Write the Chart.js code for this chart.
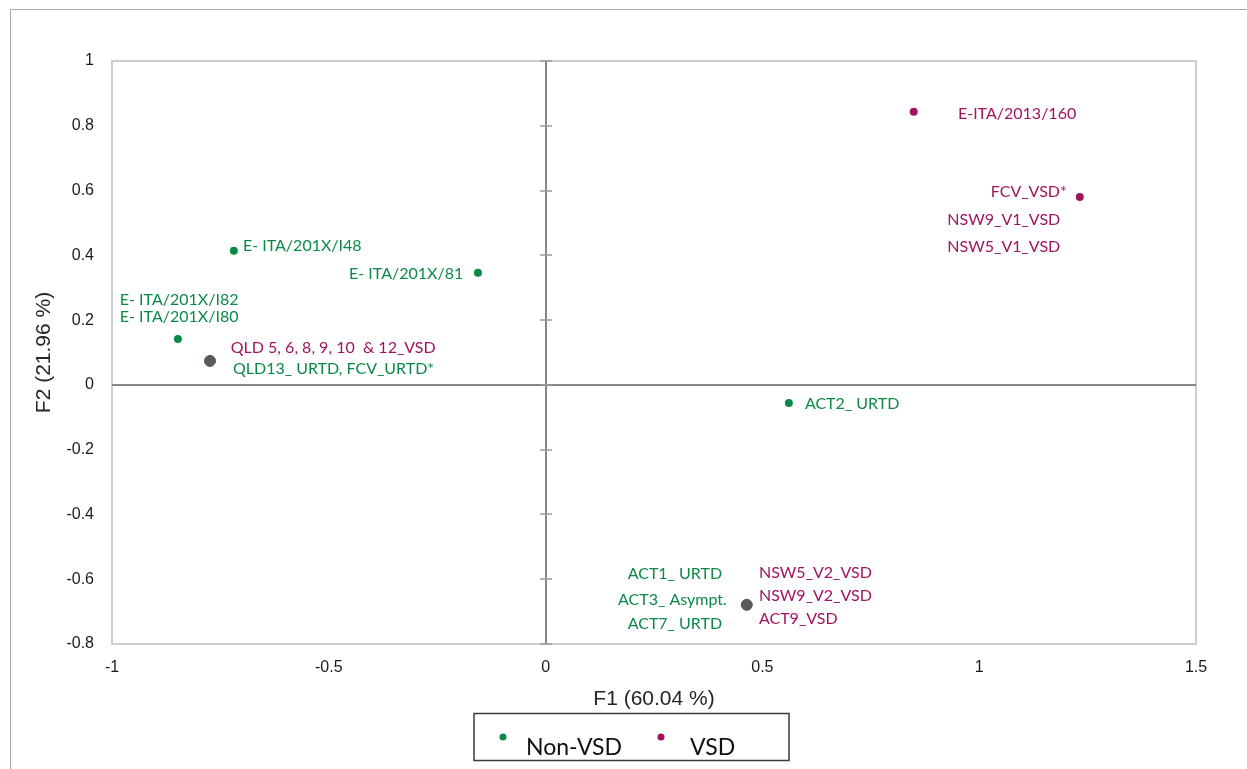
<!DOCTYPE html>
<html>
<head>
<meta charset="utf-8">
<script src="https://cdn.jsdelivr.net/npm/chart.js@4.4.1/dist/chart.umd.min.js"></script>
<style>
  html, body { margin: 0; padding: 0; background: #fff; }
</style>
</head>
<body>
<canvas id="chart" width="1247" height="769"></canvas>
<script>
// axis ticks
const xTicks = [-1, -0.5, 0, 0.5, 1, 1.5];
const yTicks = [-0.8, -0.6, -0.4, -0.2, 0, 0.2, 0.4, 0.6, 0.8, 1];

// PCA scores (F1, F2)
const nonVsdPoints = [
  { x: -0.719, y: 0.414 },
  { x: -0.156, y: 0.346 },
  { x: -0.848, y: 0.142 },
  { x: -0.774, y: 0.074 },
  { x: 0.561, y: -0.056 },
  { x: 0.464, y: -0.679 }
];
const vsdPoints = [
  { x: 0.849, y: 0.843 },
  { x: 1.232, y: 0.580 },
  { x: -0.774, y: 0.074 },
  { x: 0.464, y: -0.679 }
];
// places where both groups sit on the same spot
const sharedPoints = [
  { x: -0.774, y: 0.074 },
  { x: 0.464, y: -0.679 }
];

// text labels: anchor in data units, group, alignment
const pointLabels = [
  { text: 'E- ITA/201X/I48', x: -0.698, y: 0.429, group: 0, align: 'left' },
  { text: 'E- ITA/201X/81', x: -0.190, y: 0.343, group: 0, align: 'right' },
  { text: 'E- ITA/201X/I82', x: -0.982, y: 0.262, group: 0, align: 'left' },
  { text: 'E- ITA/201X/I80', x: -0.982, y: 0.210, group: 0, align: 'left' },
  { text: 'QLD 5, 6, 8, 9, 10  & 12_VSD', x: -0.726, y: 0.114, group: 1, align: 'left' },
  { text: 'QLD13_ URTD, FCV_URTD*', x: -0.721, y: 0.049, group: 0, align: 'left' },
  { text: 'ACT2_ URTD', x: 0.598, y: -0.059, group: 0, align: 'left' },
  { text: 'ACT1_ URTD', x: 0.407, y: -0.583, group: 0, align: 'right' },
  { text: 'ACT3_ Asympt.', x: 0.418, y: -0.664, group: 0, align: 'right' },
  { text: 'ACT7_ URTD', x: 0.407, y: -0.738, group: 0, align: 'right' },
  { text: 'NSW5_V2_VSD', x: 0.492, y: -0.580, group: 1, align: 'left' },
  { text: 'NSW9_V2_VSD', x: 0.492, y: -0.651, group: 1, align: 'left' },
  { text: 'ACT9_VSD', x: 0.492, y: -0.722, group: 1, align: 'left' },
  { text: 'E-ITA/2013/160', x: 0.951, y: 0.836, group: 1, align: 'left' },
  { text: 'FCV_VSD*', x: 1.202, y: 0.596, group: 1, align: 'right' },
  { text: 'NSW9_V1_VSD', x: 1.187, y: 0.509, group: 1, align: 'right' },
  { text: 'NSW5_V1_VSD', x: 1.187, y: 0.426, group: 1, align: 'right' }
];

const GREEN = '#0a8a46';
const MAGENTA = '#a0145e';
const groupColors = [GREEN, MAGENTA];

function fmt(v) {
  return String(Math.round(v * 10) / 10);
}

const decorPlugin = {
  id: 'decor',
  beforeDatasetsDraw(chart) {
    const { ctx, chartArea: a, scales: { x, y } } = chart;
    ctx.save();
    // outer frame
    ctx.strokeStyle = '#a6a6a6';
    ctx.lineWidth = 1;
    ctx.strokeRect(10.5, 9.5, chart.width + 20, chart.height + 20);
    // plot area border
    ctx.strokeStyle = '#cdcdcd';
    ctx.lineWidth = 2;
    ctx.strokeRect(a.left, a.top, a.right - a.left, a.bottom - a.top);
    // zero axes
    const x0 = Math.round(x.getPixelForValue(0));
    const y0 = Math.round(y.getPixelForValue(0));
    ctx.strokeStyle = '#878787';
    ctx.lineWidth = 2;
    ctx.beginPath();
    ctx.moveTo(x0, a.top); ctx.lineTo(x0, a.bottom);
    ctx.moveTo(a.left, y0); ctx.lineTo(a.right, y0);
    ctx.stroke();
    // small tick marks on the vertical zero axis
    ctx.strokeStyle = '#9a9a9a';
    ctx.lineWidth = 1.5;
    ctx.beginPath();
    yTicks.forEach(v => {
      const py = Math.round(y.getPixelForValue(v));
      ctx.moveTo(x0 - 6, py); ctx.lineTo(x0 + 6, py);
    });
    ctx.stroke();
    ctx.restore();
  },
  afterDatasetsDraw(chart) {
    const { ctx, scales: { x, y } } = chart;
    ctx.save();
    ctx.font = '16px Lato';
    ctx.textBaseline = 'middle';
    pointLabels.forEach(l => {
      ctx.fillStyle = groupColors[l.group];
      ctx.textAlign = l.align;
      ctx.fillText(l.text, x.getPixelForValue(l.x), y.getPixelForValue(l.y));
    });
    ctx.restore();
  },
  afterDraw(chart) {
    // legend box
    const { ctx } = chart;
    const sets = chart.data.datasets.filter(d => d.inLegend);
    ctx.save();
    ctx.strokeStyle = '#3a3a3a';
    ctx.lineWidth = 1.5;
    ctx.strokeRect(474, 713.5, 315, 47);
    ctx.font = '23px Lato';
    ctx.textBaseline = 'middle';
    ctx.textAlign = 'left';
    const slots = [{ dot: 503, text: 526 }, { dot: 661, text: 690 }];
    sets.forEach((d, i) => {
      ctx.fillStyle = d.backgroundColor;
      ctx.beginPath();
      ctx.arc(slots[i].dot, 737, 3.5, 0, Math.PI * 2);
      ctx.fill();
      ctx.fillStyle = '#111';
      ctx.fillText(d.label, slots[i].text, 748);
    });
    ctx.restore();
  }
};

new Chart(document.getElementById('chart'), {
  type: 'scatter',
  data: {
    datasets: [
      { label: 'Non-VSD', data: nonVsdPoints, backgroundColor: GREEN, borderColor: GREEN,
        pointRadius: 4, borderWidth: 0, order: 2, inLegend: true },
      { label: 'VSD', data: vsdPoints, backgroundColor: MAGENTA, borderColor: MAGENTA,
        pointRadius: 4, borderWidth: 0, order: 1, inLegend: true },
      { label: 'both', data: sharedPoints, backgroundColor: '#595959', borderColor: '#6a4a5c',
        pointRadius: 5.5, borderWidth: 1, order: 0, inLegend: false }
    ]
  },
  options: {
    responsive: false,
    animation: false,
    layout: { padding: { top: 61, right: 51, bottom: 0, left: 0 } },
    plugins: {
      legend: { display: false },
      tooltip: { enabled: false }
    },
    scales: {
      x: {
        type: 'linear',
        min: -1,
        max: 1.5,
        afterBuildTicks: s => { s.ticks = xTicks.map(v => ({ value: v })); },
        afterFit: s => { s.height = 125; },
        grid: { display: false, drawTicks: false },
        border: { display: false },
        ticks: { padding: 14, color: '#1a1a1a', font: { family: 'Liberation Sans', size: 16 }, callback: fmt },
        title: { display: true, text: 'F1 (60.04 %)', color: '#262626',
          font: { family: 'Liberation Sans', size: 21 }, padding: { top: 0, bottom: 57 } }
      },
      y: {
        type: 'linear',
        min: -0.8,
        max: 1,
        afterBuildTicks: s => { s.ticks = yTicks.map(v => ({ value: v })); },
        afterFit: s => { s.width = 112; },
        grid: { display: false, drawTicks: false },
        border: { display: false },
        ticks: { padding: 18, color: '#1a1a1a', font: { family: 'Liberation Sans', size: 16 }, callback: fmt },
        title: { display: true, text: 'F2 (21.96 %)', color: '#262626',
          font: { family: 'Liberation Sans', size: 21 }, padding: { top: 32, bottom: 0 } }
      }
    }
  },
  plugins: [decorPlugin]
});
</script>
</body>
</html>
